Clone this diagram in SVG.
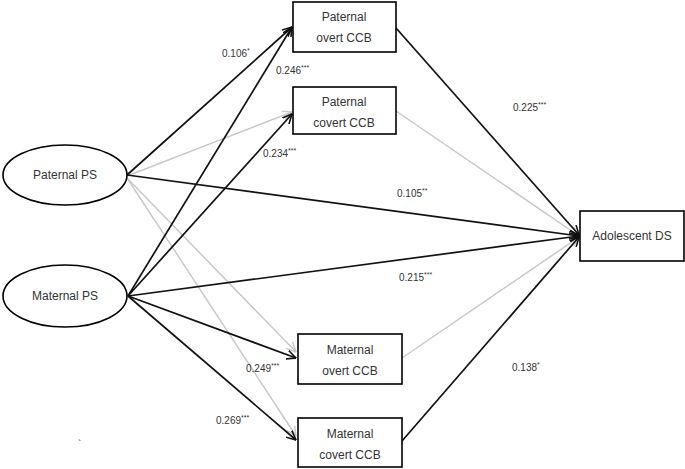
<svg xmlns="http://www.w3.org/2000/svg" width="685" height="469" viewBox="0 0 685 469">
<style>
.box{fill:#fff;stroke:#000;stroke-width:1.6}
.nl{font-family:"Liberation Sans",Arial,sans-serif;font-size:12px;fill:#333;text-anchor:middle}
.cl{font-family:"Liberation Sans",Arial,sans-serif;font-size:10px;fill:#333}
.sup{font-size:7px}
.k{stroke:#111;stroke-width:1.7;fill:none}
.g{stroke:#c8c8c8;stroke-width:1.5;fill:none}
</style>
<defs>
<marker id="ak" viewBox="0 0 10 10" refX="9.5" refY="5" markerWidth="10" markerHeight="10" markerUnits="userSpaceOnUse" orient="auto">
<path d="M0,0.5 L9.5,5 L0,9.5" fill="none" stroke="#111" stroke-width="1.6"/>
</marker>
<marker id="ag" viewBox="0 0 10 10" refX="9.5" refY="5" markerWidth="10" markerHeight="10" markerUnits="userSpaceOnUse" orient="auto">
<path d="M0,0.5 L9.5,5 L0,9.5" fill="none" stroke="#c8c8c8" stroke-width="1.4"/>
</marker>
</defs>
<g id="connectors">
<line class="g" x1="127" y1="176" x2="292" y2="112" marker-end="url(#ag)"/>
<line class="g" x1="127" y1="178" x2="296" y2="352" marker-end="url(#ag)"/>
<line class="g" x1="127" y1="178" x2="296" y2="436" marker-end="url(#ag)"/>
<line class="g" x1="396" y1="111" x2="579" y2="236" marker-end="url(#ag)"/>
<line class="g" x1="402" y1="358" x2="579" y2="237" marker-end="url(#ag)"/>
<line class="k" x1="127" y1="175" x2="292" y2="27" marker-end="url(#ak)"/>
<line class="k" x1="127" y1="175" x2="579" y2="236" marker-end="url(#ak)"/>
<line class="k" x1="128" y1="296" x2="292" y2="27" marker-end="url(#ak)"/>
<line class="k" x1="128" y1="296" x2="292" y2="114" marker-end="url(#ak)"/>
<line class="k" x1="128" y1="296" x2="579" y2="236" marker-end="url(#ak)"/>
<line class="k" x1="128" y1="296" x2="296" y2="358" marker-end="url(#ak)"/>
<line class="k" x1="128" y1="296" x2="296" y2="440" marker-end="url(#ak)"/>
<line class="k" x1="396" y1="28" x2="579" y2="235" marker-end="url(#ak)"/>
<line class="k" x1="402" y1="441" x2="579" y2="237" marker-end="url(#ak)"/>
</g>
<g id="paternal-ps">
<ellipse class="box" cx="65" cy="175" rx="62" ry="30"/>
<text class="nl" x="65" y="179">Paternal PS</text>
</g>
<g id="maternal-ps">
<ellipse class="box" cx="65" cy="296" rx="62" ry="31"/>
<text class="nl" x="65" y="300">Maternal PS</text>
</g>
<g id="paternal-overt">
<rect class="box" x="293" y="2" width="103" height="50"/>
<text class="nl" x="344" y="21">Paternal</text>
<text class="nl" x="344" y="42">overt CCB</text>
</g>
<g id="paternal-covert">
<rect class="box" x="293" y="87" width="103" height="47"/>
<text class="nl" x="344" y="106">Paternal</text>
<text class="nl" x="344" y="127">covert CCB</text>
</g>
<g id="maternal-overt">
<rect class="box" x="298" y="334" width="104" height="50"/>
<text class="nl" x="350" y="354">Maternal</text>
<text class="nl" x="350" y="375">overt CCB</text>
</g>
<g id="maternal-covert">
<rect class="box" x="298" y="418" width="104" height="49"/>
<text class="nl" x="350" y="438">Maternal</text>
<text class="nl" x="350" y="459">covert CCB</text>
</g>
<g id="adolescent-ds">
<rect class="box" x="580" y="211" width="104" height="50"/>
<text class="nl" x="632" y="240">Adolescent DS</text>
</g>
<g id="labels">
<text class="cl" x="222" y="57">0.106<tspan class="sup" dy="-4">*</tspan></text>
<text class="cl" x="276" y="74">0.246<tspan class="sup" dy="-4">***</tspan></text>
<text class="cl" x="263" y="157">0.234<tspan class="sup" dy="-4">***</tspan></text>
<text class="cl" x="513" y="111">0.225<tspan class="sup" dy="-4">***</tspan></text>
<text class="cl" x="397" y="197">0.105<tspan class="sup" dy="-4">**</tspan></text>
<text class="cl" x="399" y="281">0.215<tspan class="sup" dy="-4">***</tspan></text>
<text class="cl" x="512" y="371">0.138<tspan class="sup" dy="-4">*</tspan></text>
<text class="cl" x="246" y="372">0.249<tspan class="sup" dy="-4">***</tspan></text>
<text class="cl" x="216" y="424">0.269<tspan class="sup" dy="-4">***</tspan></text>
<text class="cl" x="78" y="448">`</text>
</g>
</svg>
